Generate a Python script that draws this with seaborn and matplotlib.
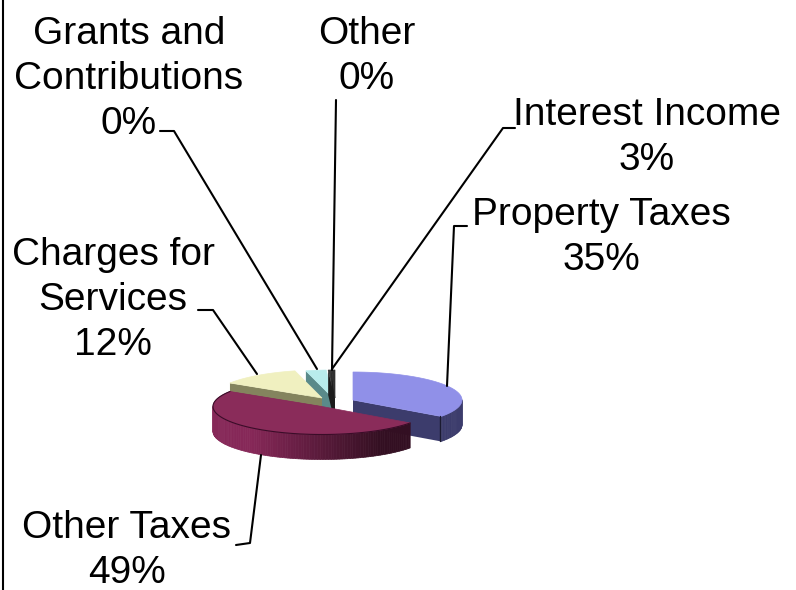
import numpy as np
import matplotlib
matplotlib.use("Agg")
import matplotlib.pyplot as plt
import seaborn as sns

categories = ["Property Taxes", "Other Taxes", "Charges for\nServices", "Grants and\nContributions", "Other", "Interest Income"]
shares = [35, 49, 12, 3, 0.5, 0.5]
label_pcts = ["35%", "49%", "12%", "0%", "0%", "3%"]

sns.set_theme(style="white")
plt.rcParams["font.family"] = ["Liberation Sans", "DejaVu Sans"]

top_colors = sns.color_palette(["#9090e8", "#8a2c5a", "#f0f0c0", "#b8ecec", "#3a3a3a", "#303030"])
side_colors = sns.color_palette(["#3c3c6c", "#7a2450", "#84845e", "#5a8a8a", "#1c1c1c", "#1c1c1c"])

RX, RY, DEPTH = 109, 28, 25
apexes = [(353, 400), (322, 406.5), (322, 398), (333, 398), (335, 398), (335, 398)]
draw_order = [0, 3, 4, 5, 2, 1]

fig = plt.figure(figsize=(7.96, 5.9), dpi=100)
ax = fig.add_axes([0, 0, 1, 1])
ax.set_xlim(0, 796)
ax.set_ylim(590, 0)
ax.axis("off")

edges = np.concatenate([[0], np.cumsum(shares)]) / np.sum(shares) * 2 * np.pi


def pt(a, apex, dy=0):
    return apex[0] + RX * np.sin(a), apex[1] - RY * np.cos(a) + dy


def shade(color, f):
    return tuple(c * f for c in color)


for i in draw_order:
    a0, a1 = edges[i], edges[i + 1]
    apex = apexes[i]
    # cut face turned toward the viewer
    e = a1 if i < 2 else a0
    x, y = pt(e, apex)
    ax.fill([apex[0], x, x, apex[0]], [apex[1], y, y + DEPTH, apex[1] + DEPTH],
            color=side_colors[i], lw=0)
    # outer wall in shaded strips
    th = np.linspace(a0, a1, max(3, int((a1 - a0) * 40)))
    for t0, t1 in zip(th[:-1], th[1:]):
        if np.cos((t0 + t1) / 2) > 0:
            continue
        x0, y0 = pt(t0, apex)
        x1, y1 = pt(t1, apex)
        f = 1.0
        if i == 1:
            f = 0.42 + 0.68 * np.clip((apex[0] + 60 - x0) / 130, 0, 1)
        ax.fill([x0, x1, x1, x0], [y0, y1, y1 + DEPTH, y0 + DEPTH],
                color=shade(side_colors[i], f), lw=0.5)
    # top face
    t = np.linspace(a0, a1, 80)
    xs, ys = pt(t, apex)
    ax.fill(np.r_[apex[0], xs], np.r_[apex[1], ys], color=top_colors[i], lw=0.5)
    if i == 1:
        ax.plot(xs, ys, color="#3a0c28", lw=0.8)

ax.plot([440, 440], [416, 441], color="#1a1a30", lw=1)

ax.plot([447, 454, 467], [386, 226, 226], color="black", lw=1.5)
ax.plot([261, 250, 236], [455, 543, 545], color="black", lw=1.5)
ax.plot([257, 213, 198], [374, 310, 310], color="black", lw=1.5)
ax.plot([317, 174, 160], [369, 131, 131], color="black", lw=1.5)
ax.plot([332, 336], [370, 100], color="black", lw=1.5)
ax.plot([332, 503, 515], [369, 128, 128], color="black", lw=1.5)

label_pos = [(601, 237.5), (127, 550.5), (113, 300), (129, 79), (367, 56.5), (647, 137.5)]
for name, pct, (x, y) in zip(categories, label_pcts, label_pos):
    ax.text(x, y, f"{name}\n{pct}", ha="center", va="center", fontsize=28,
            color="black", linespacing=1.31)

ax.plot([3, 3], [0, 590], color="black", lw=1.5)
fig.savefig("out.png", dpi=100)
